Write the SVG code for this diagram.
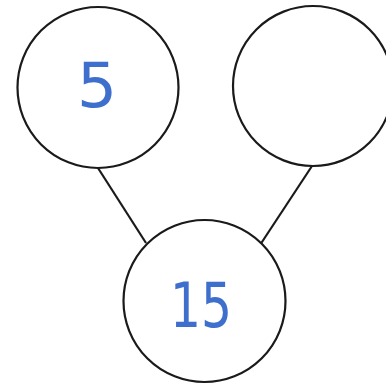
<svg xmlns="http://www.w3.org/2000/svg" width="386" height="385" viewBox="0 0 386 385">
<style>
.n{fill:#fff;stroke:#1a1a1a;stroke-width:2.2}
.t{font-family:"DejaVu Sans",sans-serif;font-size:63px;fill:#3f6fcc;text-anchor:middle}
.c{stroke:#1a1a1a;stroke-width:2.2;fill:none}
</style>
<rect width="386" height="385" fill="#fff"/>
<g id="connectors">
<line class="c" x1="98" y1="168" x2="146" y2="243"/>
<line class="c" x1="312" y1="166" x2="260" y2="245"/>
</g>
<g id="node-left">
<circle class="n" cx="98" cy="87.5" r="80.5"/>
<text class="t" x="97" y="107">5</text>
</g>
<g id="node-right">
<circle class="n" cx="313" cy="86" r="80"/>
</g>
<g id="node-bottom">
<circle class="n" cx="204.5" cy="301" r="81"/>
<text class="t" x="201" y="327" textLength="62" lengthAdjust="spacingAndGlyphs">15</text>
</g>
</svg>
